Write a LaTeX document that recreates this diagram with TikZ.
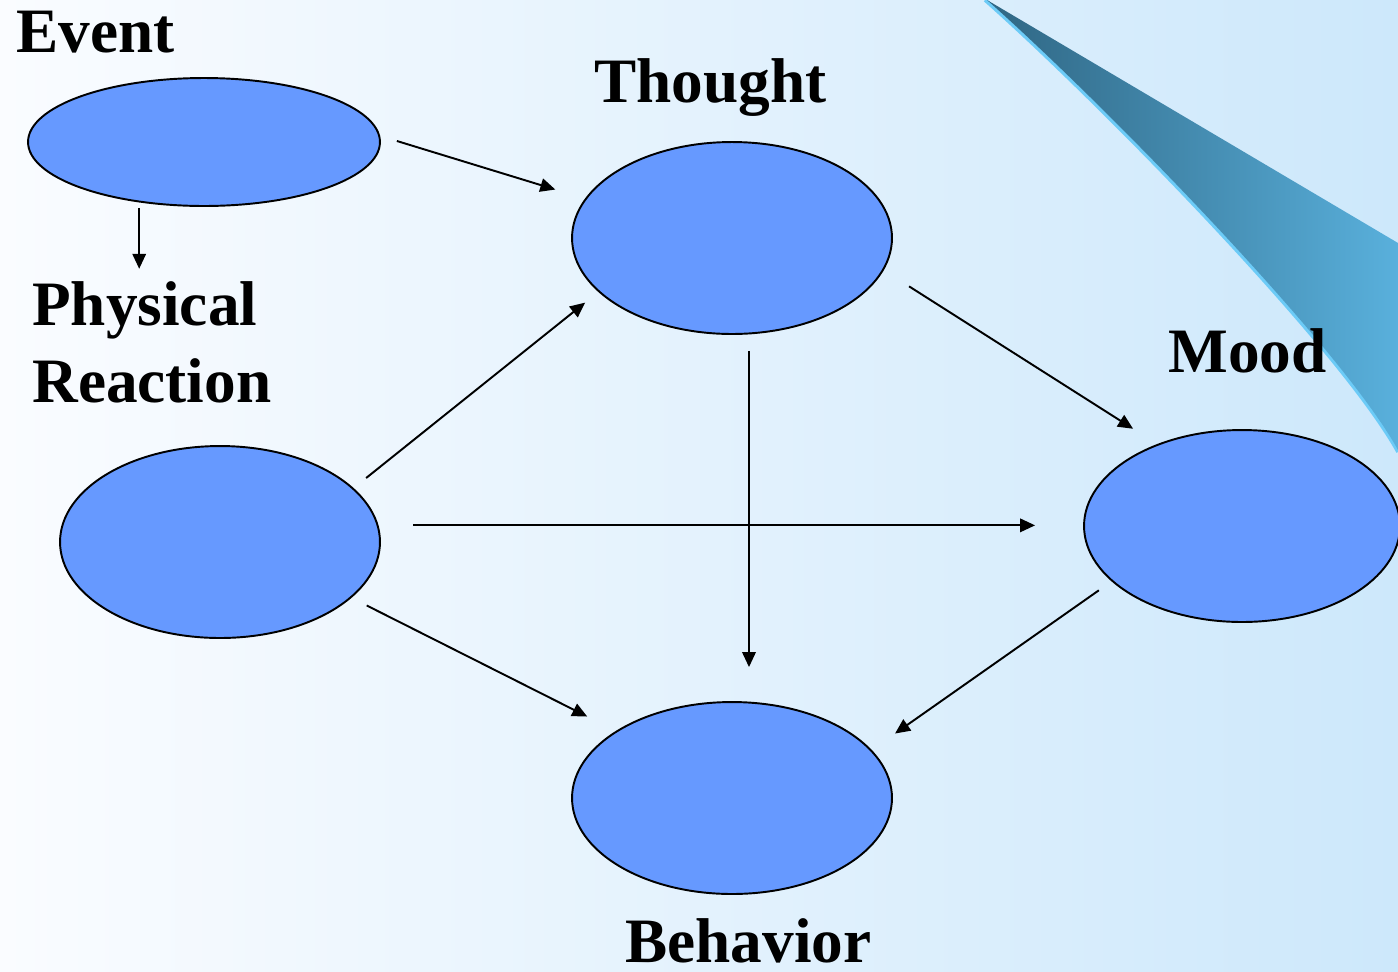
\documentclass[tikz,border=0pt]{standalone}
\usepackage{fontspec}
\setmainfont{Liberation Serif}
\usepackage{tikz}
\usetikzlibrary{arrows.meta,shapes.geometric}
\definecolor{ink}{HTML}{000000}
\definecolor{oval}{HTML}{6699FF}
\definecolor{paper}{HTML}{FAFCFF}
\definecolor{sky}{HTML}{CDE8FB}
\definecolor{deep}{HTML}{2F6683}
\definecolor{swoosh}{HTML}{59B0DC}
\definecolor{rim}{HTML}{6CCBF7}
\tikzset{
  blob/.style={ellipse,draw=ink,fill=oval,line width=1.1pt,inner sep=0pt,minimum width=6.4cm,minimum height=3.84cm},
  lbl/.style={anchor=base west,inner sep=0pt,font=\fontsize{36}{40}\selectfont\bfseries,text=ink},
  flow/.style={-{Triangle[length=3mm,width=2.7mm]},line width=1.1pt,draw=ink}
}

\begin{document}
\begin{tikzpicture}[x=0.02cm,y=-0.02cm]
    % backdrop
    \shade[left color=paper,right color=sky] (0,0) rectangle (1398,971);
    \clip (0,0) rectangle (1398,971);
    \draw[rim,line width=2pt] (1398,452) .. controls (1340,347) and (1100,102) .. (985,0);
    \shade[left color=deep,right color=swoosh] (987,0) -- (1398,243) -- (1398,450) .. controls (1340,345) and (1100,100) .. (987,0) -- cycle;

    \node[blob,minimum width=7.04cm,minimum height=2.56cm] (event) at (204,142) {};
    \node[blob] (thought) at (732,238) {};
    \node[blob] (phys) at (220,542) {};
    \node[blob,minimum width=6.32cm] (mood) at (1242,526) {};
    \node[blob] (behavior) at (732,798) {};

    \node[lbl] (eventlbl) at (16,52) {Event};
    \node[lbl] (thoughtlbl) at (594,102) {Thought};
    \node[lbl] (physical) at (32,325) {Physical};
    \node[lbl] (reaction) at (32,402) {Reaction};
    \node[lbl] (moodlbl) at (1168,372) {Mood};
    \node[lbl] (behaviorlbl) at (625,962) {Behavior};

    \draw[flow,shorten <=0.35cm,shorten >=0.62cm] (event.2) -- (thought.165);
    \draw[flow,shorten <=0.11cm,shorten >=0.24cm] (event.223) -- (event.223 |- physical.north);
    \draw[flow,shorten <=0.32cm,shorten >=0.34cm] (phys.22) -- (thought.202);
    \draw[flow,shorten <=0.69cm,shorten >=0.96cm] (phys.6) -- (phys.6 -| mood.west);
    \draw[flow,shorten <=0.34cm,shorten >=0.64cm] (phys.-23.5) -- (behavior.150);
    \draw[flow,shorten <=0.33cm,shorten >=0.68cm] (thought.-80.5) -- (thought.-80.5 |- behavior.north);
    \draw[flow,shorten <=0.60cm,shorten >=0.57cm] (thought.-12.3) -- (mood.136.8);
    \draw[flow,shorten <=0.31cm,shorten >=0.57cm] (mood.203.1) -- (behavior.19.6);
\end{tikzpicture}
\end{document}
